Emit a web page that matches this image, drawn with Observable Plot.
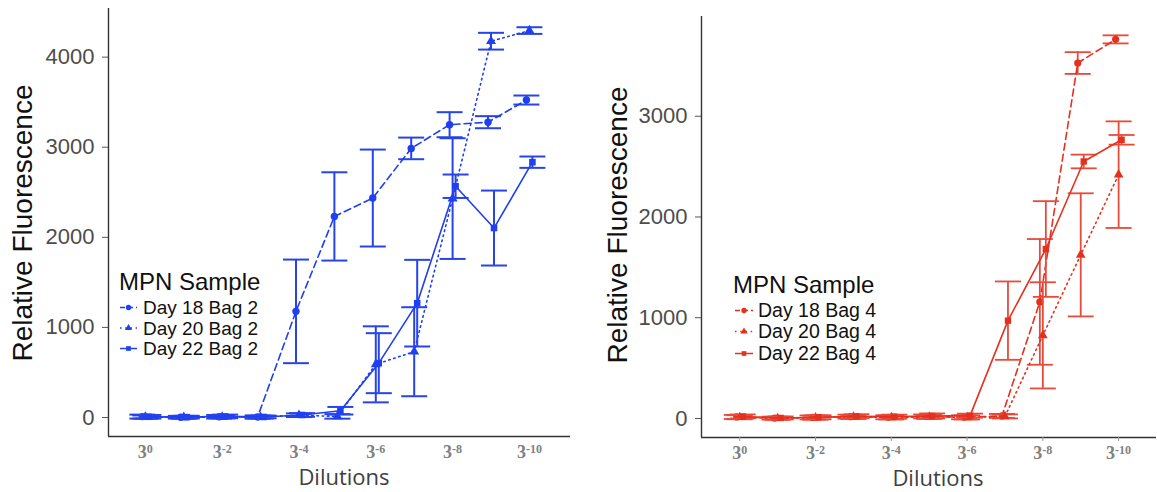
<!DOCTYPE html>
<html><head><meta charset="utf-8">
<script src="https://cdn.jsdelivr.net/npm/d3@7"></script>
<script src="https://cdn.jsdelivr.net/npm/@observablehq/plot@0.6"></script>
<style>
html,body{margin:0;padding:0;background:#fff;}
#wrap{position:relative;width:1157px;height:492px;overflow:hidden;background:#fff;}
#wrap svg{position:absolute;top:0;}
</style></head><body><div id="wrap"></div>
<script>
// ---- data ----
const dilutionSteps = [0,1,2,3,4,5,6,7,8,9,10];          // exponent magnitude: 3^-k
const tickSteps = [0,2,4,6,8,10];
const tickExponents = ["0","-2","-4","-6","-8","-10"];
const yTicksBag2 = [0,1000,2000,3000,4000];
const yTicksBag4 = [0,1000,2000,3000];
const legendTitle = "MPN Sample";
const xTitle = "Dilutions";
const yTitle = "Relative Fluorescence";

const seriesBag2 = ["Day 18 Bag 2","Day 20 Bag 2","Day 22 Bag 2"];
const day18Bag2Mean = [10, 3, 8, 5, 1178, 2232, 2436, 2987, 3250, 3278, 3524];
const day18Bag2Err  = [22, 15, 20, 18, 575, 490, 538, 120, 139, 67, 50];
const day20Bag2Mean = [5, 2, 6, 4, 25, 12, 590, 730, 2430, 4177, 4295];
const day20Bag2Err  = [18, 15, 15, 15, 20, 25, 422, 494, 670, 93, 37];
const day22Bag2Mean = [8, 4, 12, 6, 28, 75, 603, 1269, 2567, 2103, 2834];
const day22Bag2Err  = [20, 15, 20, 15, 20, 42, 333, 481, 130, 416, 63];

const seriesBag4 = ["Day 18 Bag 4","Day 20 Bag 4","Day 22 Bag 4"];
const day18Bag4Mean = [15, 3, 10, 18, 12, 20, 12, 25, 1157, 3528, 3763];
const day18Bag4Err  = [20, 15, 20, 20, 20, 20, 20, 20, 624, 108, 40];
const day20Bag4Mean = [12, 2, 8, 15, 10, 15, 10, 20, 825, 1624, 2420];
const day20Bag4Err  = [20, 15, 20, 20, 20, 20, 20, 20, 527, 611, 529];
const day22Bag4Mean = [20, 5, 12, 22, 18, 25, 28, 971, 1682, 2551, 2766];
const day22Bag4Err  = [20, 15, 20, 20, 20, 25, 20, 389, 475, 68, 48];

// ---- drawing ----
const styles = [
  {symbol: "circle", dash: "7,4", dx: -3},
  {symbol: "triangle", dash: "1.6,3.6", dx: 0},
  {symbol: "square", dash: null, dx: 3}
];
const capSymbol = {draw(ctx){ ctx.moveTo(-13,0); ctx.lineTo(13,0); }};

function panel(o){
  const marks = [
    Plot.ruleX([o.xDomain[0]], {stroke:"#333", strokeWidth:1.4}),
    Plot.ruleY([o.yDomain[0]], {stroke:"#333", strokeWidth:1.4}),
    Plot.axisY({ticks: o.yTicks, tickSize: 6, tickPadding: 8, stroke: "#555", fill: "#4d4d4d",
      fontSize: 22, label: null, tickFormat: d => String(d)}),
    Plot.axisX({ticks: tickSteps, tickSize: o.xTickSize, tickPadding: o.xTickPadding, stroke: "#999", fill: "#808080",
      fontSize: 18, label: null, tickFormat: d => "3^" + tickExponents[tickSteps.indexOf(d)]})
  ];
  o.series.forEach((name, i) => {
    const st = styles[i];
    const rows = dilutionSteps.map((k, j) => ({k, mean: o.means[i][j], lo: o.means[i][j] - o.errs[i][j], hi: o.means[i][j] + o.errs[i][j]}));
    marks.push(
      Plot.ruleX(rows, {x: "k", y1: "lo", y2: "hi", stroke: o.barColor, strokeWidth: o.barWidth, dx: st.dx}),
      Plot.dot(rows, {x: "k", y: "lo", symbol: capSymbol, r: 3, fill: "none", stroke: o.barColor, strokeWidth: o.barWidth, dx: st.dx}),
      Plot.dot(rows, {x: "k", y: "hi", symbol: capSymbol, r: 3, fill: "none", stroke: o.barColor, strokeWidth: o.barWidth, dx: st.dx}),
      Plot.line(rows, Object.assign({x: "k", y: "mean", stroke: o.color, strokeWidth: 1.6, dx: st.dx}, st.dash ? {strokeDasharray: st.dash} : {})),
      Plot.dot(rows, {x: "k", y: "mean", symbol: st.symbol, r: o.r, fill: o.color, stroke: "none", dx: st.dx})
    );
  });
  const svg = Plot.plot({
    width: o.width, height: 492,
    marginLeft: o.marginLeft, marginRight: o.marginRight, marginTop: o.marginTop, marginBottom: o.marginBottom,
    x: {domain: o.xDomain}, y: {domain: o.yDomain},
    style: {fontFamily: "'Liberation Sans', Arial, sans-serif", background: "white", overflow: "visible"},
    marks
  });
  const s = d3.select(svg);
  // x tick labels with superscripts
  s.selectAll('g[aria-label="x-axis tick label"]')
    .attr("font-family", "'Liberation Serif', 'Times New Roman', serif")
    .attr("font-weight", "bold").attr("fill", "#808080");
  s.selectAll('g[aria-label="x-axis tick label"] text').each(function(){
    const [b, e] = this.textContent.split("^");
    const t = d3.select(this); t.text(null);
    t.attr("font-size", 18).style("font-size", "18px")
     .attr("font-family", "'Liberation Serif', 'Times New Roman', serif").attr("font-weight", "bold");
    t.append("tspan").style("font-size", "18px").text(b);
    t.append("tspan").style("font-size", "12px").attr("dy", -5.5).text(e);
  });
  // axis titles
  s.append("text").attr("transform", `translate(${o.yLabelX},${o.yLabelY}) rotate(-90)`)
    .attr("text-anchor", "middle").attr("font-size", 28).attr("fill", "#111").text(yTitle);
  s.append("text").attr("x", o.xLabelX).attr("y", o.xLabelY)
    .attr("text-anchor", "middle").attr("font-family", "'Open Sans', sans-serif").attr("font-size", 22).attr("fill", "#404040").text(xTitle);
  // legend
  const L = o.legend;
  s.append("text").attr("x", L.x).attr("y", L.titleY).attr("text-anchor", "start")
    .attr("font-size", 24).attr("fill", "#111").text(legendTitle);
  const symbolTypes = {circle: d3.symbolCircle, triangle: d3.symbolTriangle, square: d3.symbolSquare};
  o.series.forEach((name, i) => {
    const st = styles[i];
    const by = L.rowY[i];
    const cy = by - 6.5;
    const ln = s.append("line").attr("x1", L.keyX1).attr("x2", L.keyX2).attr("y1", cy).attr("y2", cy)
      .attr("stroke", o.color).attr("stroke-width", 1.5);
    if (st.dash) ln.attr("stroke-dasharray", st.dash === "7,4" ? "5,3" : st.dash);
    s.append("path").attr("d", d3.symbol(symbolTypes[st.symbol], 22)())
      .attr("transform", `translate(${(L.keyX1 + L.keyX2) / 2},${cy})`).attr("fill", o.color);
    s.append("text").attr("x", L.textX).attr("y", by).attr("text-anchor", "start")
      .attr("font-size", L.fontSize).attr("fill", "#111").text(name);
  });
  return svg;
}

const wrap = document.getElementById("wrap");
const left = panel({
  width: 580, marginLeft: 108, marginRight: 10, marginTop: 8, marginBottom: 56,
  xDomain: [-0.96, 11.07], yDomain: [-211, 4540], yTicks: yTicksBag2,
  xTickSize: 0, xTickPadding: 9,
  color: "#1f3ff0", barColor: "#2744ea", barWidth: 2, r: 3.7,
  series: seriesBag2,
  means: [day18Bag2Mean, day20Bag2Mean, day22Bag2Mean],
  errs: [day18Bag2Err, day20Bag2Err, day22Bag2Err],
  yLabelX: 32, yLabelY: 223, xLabelX: 344, xLabelY: 485,
  legend: {x: 119, titleY: 290, rowY: [314, 334.5, 355], keyX1: 120, keyX2: 137, textX: 143, fontSize: 19}
});
left.style.left = "0px";
wrap.appendChild(left);
const right = panel({
  width: 577, marginLeft: 121, marginRight: 1, marginTop: 16, marginBottom: 55,
  xDomain: [-1.01, 11.0], yDomain: [-189, 3990], yTicks: yTicksBag4,
  xTickSize: 4, xTickPadding: 5,
  color: "#e6301e", barColor: "#e84a3a", barWidth: 1.8, r: 3.6,
  series: seriesBag4,
  means: [day18Bag4Mean, day20Bag4Mean, day22Bag4Mean],
  errs: [day18Bag4Err, day20Bag4Err, day22Bag4Err],
  yLabelX: 47, yLabelY: 225, xLabelX: 358, xLabelY: 485.5,
  legend: {x: 153, titleY: 293, rowY: [317, 338, 360], keyX1: 155, keyX2: 173, textX: 178, fontSize: 19.5}
});
right.style.left = "580px";
wrap.appendChild(right);
</script></body></html>
